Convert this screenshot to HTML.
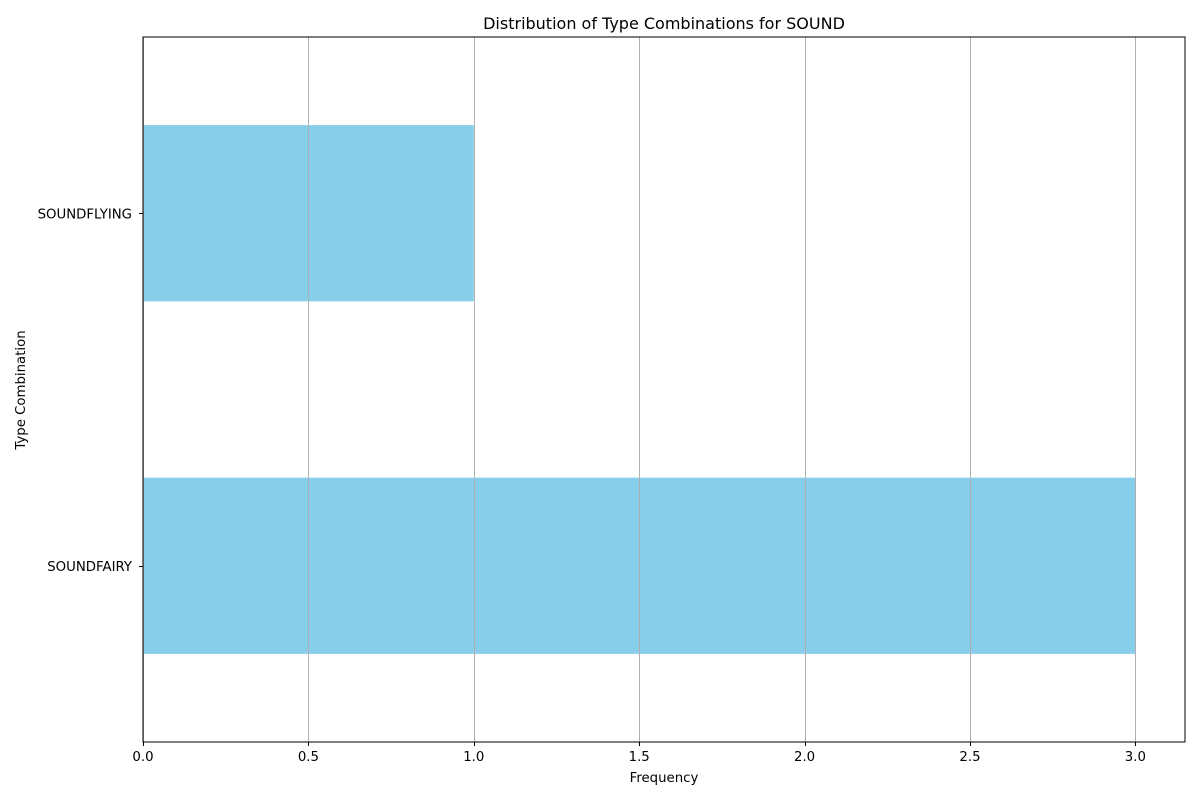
<!DOCTYPE html>
<html><head><meta charset="utf-8"><style>
html,body{margin:0;padding:0;background:#fff;}
svg{display:block;font-family:"DejaVu Sans","Liberation Sans",sans-serif;}
</style></head><body>
<svg id="chart" width="1200" height="800" xmlns="http://www.w3.org/2000/svg">
<rect x="0" y="0" width="1200" height="800" fill="#fff"/>
<text x="664" y="29" text-anchor="middle" font-size="16" fill="#000">Distribution of Type Combinations for SOUND</text>
<text x="664" y="782" text-anchor="middle" font-size="13.3" fill="#000">Frequency</text>
<text x="25" y="390" text-anchor="middle" font-size="13.3" fill="#000" transform="rotate(-90 25 390)">Type Combination</text>
<g id="bars"></g>
<g id="grid"></g>
<g id="ticks"></g>
<rect x="143" y="37" width="1042" height="705" fill="none" stroke="#000" stroke-width="1"/>
</svg>
<script>
const categories = ["SOUNDFAIRY", "SOUNDFLYING"];
const values = [3, 1];
const xTicks = [0, 0.5, 1.0, 1.5, 2.0, 2.5, 3.0];
const xTickLabels = ["0.0", "0.5", "1.0", "1.5", "2.0", "2.5", "3.0"];

const L = 143, R = 1185, T = 37, B = 742;
const xMax = Math.max(...values) * 1.05;
const xs = v => L + (v / xMax) * (R - L);
const ys = i => B - ((i + 0.5) / categories.length) * (B - T);
const bandH = (B - T) / categories.length;
const NS = "http://www.w3.org/2000/svg";
const mk = (t, a) => { const e = document.createElementNS(NS, t); for (const k in a) e.setAttribute(k, a[k]); return e; };

const gb = document.getElementById("bars");
categories.forEach((c, i) => {
  const h = bandH * 0.5;
  const r = mk("rect", {x: xs(0), y: ys(i) - h / 2, width: xs(values[i]) - xs(0), height: h, fill: "#87ceeb"});
  
  
  gb.appendChild(r);
});

const gg = document.getElementById("grid");
const gt = document.getElementById("ticks");
xTicks.forEach((v, i) => {
  const x = Math.round(xs(v)) + 0.5;
  const g = mk("line", {x1: x, x2: x, y1: T, y2: B, stroke: "#b0b0b0", "stroke-width": 1});
  
  
  gg.appendChild(g);
  const tk = mk("line", {x1: x, x2: x, y1: B, y2: B + 4, stroke: "#000", "stroke-width": 1});
  
  
  gt.appendChild(tk);
  const tl = mk("text", {x: xs(v), y: B + 19, "text-anchor": "middle", "font-size": 13.3, fill: "#000"});
  tl.textContent = xTickLabels[i];
  
  
  gt.appendChild(tl);
});
categories.forEach((c, i) => {
  const y = Math.round(ys(i)) + 0.5;
  const tk = mk("line", {x1: L - 4, x2: L, y1: y, y2: y, stroke: "#000", "stroke-width": 1});
  
  
  gt.appendChild(tk);
  const tl = mk("text", {x: L - 11, y: ys(i) + 5, "text-anchor": "end", "font-size": 13.3, fill: "#000"});
  tl.textContent = c;
  
  
  gt.appendChild(tl);
});
</script>
</body></html>
